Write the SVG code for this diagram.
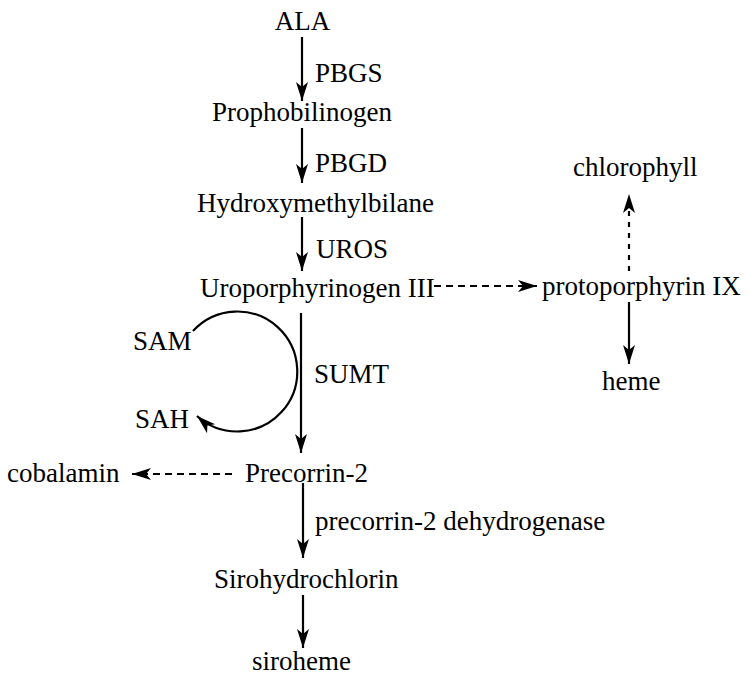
<svg xmlns="http://www.w3.org/2000/svg" width="750" height="683" viewBox="0 0 750 683">
<style>
text{font-family:"Liberation Serif","Times New Roman",serif;font-size:27px;fill:#000}
.l{fill:none;stroke:#000;stroke-width:2.2}
.d{stroke-dasharray:7 5}
.dv{stroke-dasharray:5 6}
</style>
<defs>
<marker id="ah" markerUnits="userSpaceOnUse" markerWidth="22" markerHeight="14" refX="0" refY="0" viewBox="-20 -7 22 14" orient="auto" overflow="visible">
<path d="M0,0 L-19,-6 L-14,0 L-19,6 Z" fill="#000"/>
</marker>
</defs>
<rect width="750" height="683" fill="#fff"/>
<g id="ALA"><text x="302.5" y="30" text-anchor="middle">ALA</text></g>
<g id="Prophobilinogen"><text x="212" y="121">Prophobilinogen</text></g>
<g id="Hydroxymethylbilane"><text x="197" y="212">Hydroxymethylbilane</text></g>
<g id="Uroporphyrinogen"><text x="200" y="297">Uroporphyrinogen III</text></g>
<g id="protoporphyrin"><text x="542" y="295">protoporphyrin IX</text></g>
<g id="chlorophyll"><text x="573" y="176">chlorophyll</text></g>
<g id="heme"><text x="602" y="390">heme</text></g>
<g id="SAM"><text x="133" y="350">SAM</text></g>
<g id="SAH"><text x="135" y="428">SAH</text></g>
<g id="Precorrin2"><text x="245" y="482">Precorrin-2</text></g>
<g id="cobalamin"><text x="7" y="482">cobalamin</text></g>
<g id="Sirohydrochlorin"><text x="214" y="588">Sirohydrochlorin</text></g>
<g id="siroheme"><text x="252" y="670">siroheme</text></g>
<g id="labels">
<text x="315" y="82">PBGS</text>
<text x="315" y="172">PBGD</text>
<text x="316" y="258">UROS</text>
<text x="314" y="383">SUMT</text>
<text x="315" y="530">precorrin-2 dehydrogenase</text>
</g>
<g id="connectors">
<path class="l" d="M302,37 V101" marker-end="url(#ah)"/>
<path class="l" d="M302,128 V183" marker-end="url(#ah)"/>
<path class="l" d="M302,217 V271" marker-end="url(#ah)"/>
<path class="l" d="M301,313 V453" marker-end="url(#ah)"/>
<path class="l" d="M303,483 V558" marker-end="url(#ah)"/>
<path class="l" d="M303,595 V648" marker-end="url(#ah)"/>
<path class="l" d="M629,302 V364" marker-end="url(#ah)"/>
<path class="l dv" d="M629,271 V194" marker-end="url(#ah)"/>
<path class="l d" d="M434,286 H537" marker-end="url(#ah)"/>
<path class="l d" d="M232,474 H132" marker-end="url(#ah)"/>
<path class="l" d="M193,331 A60,60 0 1 1 197,416" marker-end="url(#ah)"/>
</g>
</svg>
